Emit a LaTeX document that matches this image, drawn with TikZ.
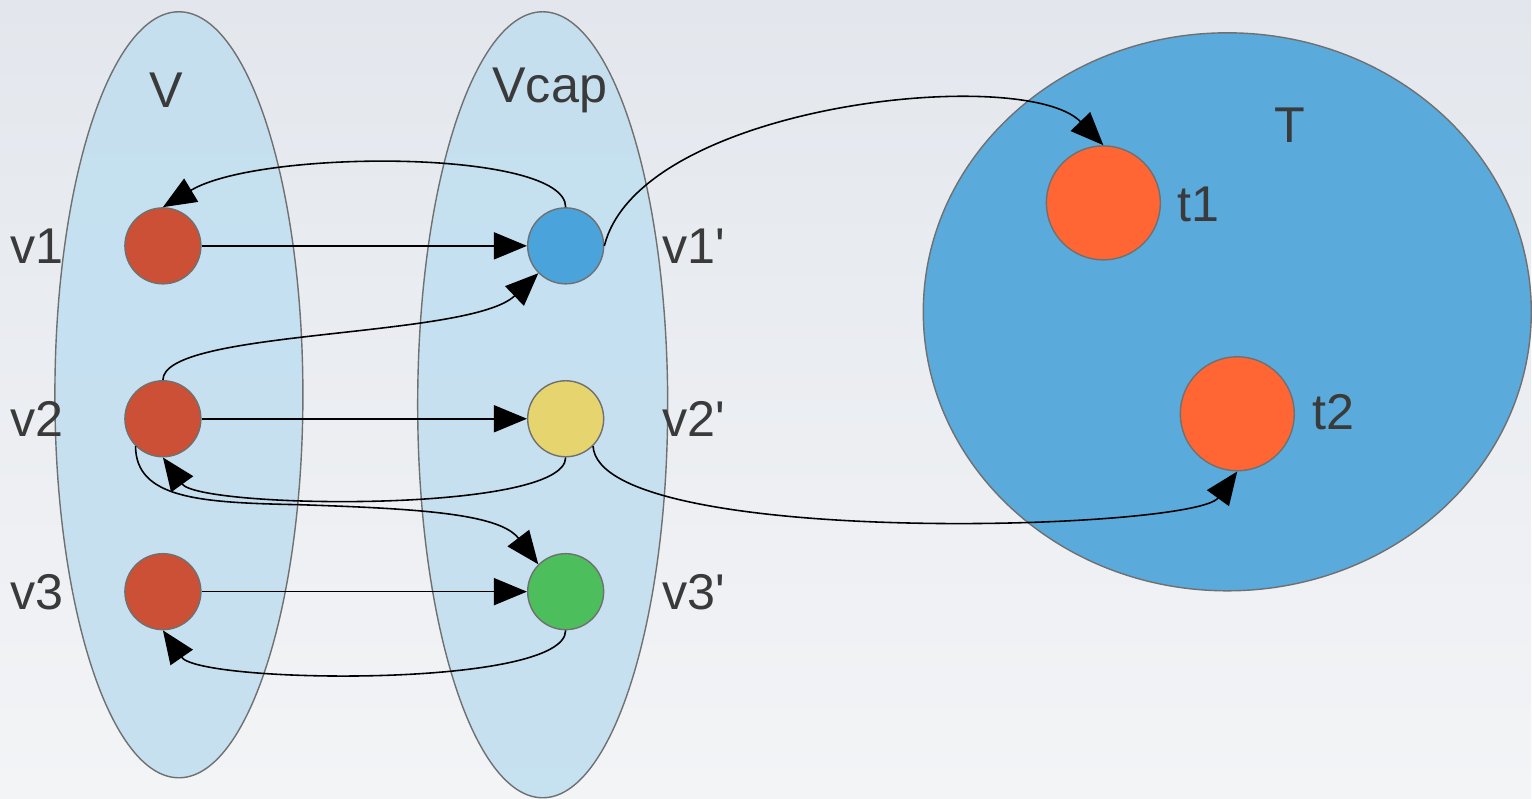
\documentclass[tikz,border=0pt]{standalone}
\usepackage{fontspec}
\setmainfont{Liberation Sans}
\usetikzlibrary{arrows.meta,shapes.geometric}

\definecolor{snowtop}{HTML}{E3E7ED}
\definecolor{snowbot}{HTML}{F3F4F6}
\definecolor{setblue}{HTML}{C2DFF0}
\definecolor{bigblue}{HTML}{5AAADC}
\definecolor{rimgrey}{HTML}{707070}
\definecolor{labgrey}{HTML}{3A3A3A}
\definecolor{vred}{HTML}{CC5035}
\definecolor{vblue}{HTML}{4AA3DB}
\definecolor{vyellow}{HTML}{E6D56E}
\definecolor{vgreen}{HTML}{4CBF5C}
\definecolor{torange}{HTML}{FF6633}

\begin{document}
\begin{tikzpicture}[x=0.01cm, y=0.01cm,
                setshape/.style={ellipse, draw=rimgrey, line width=0.4pt, inner sep=0pt},
                vtx/.style={circle, draw=rimgrey, line width=0.4pt, inner sep=0pt, minimum size=0.76cm},
                tvtx/.style={circle, draw=rimgrey, line width=0.4pt, inner sep=0pt, minimum size=1.14cm, fill=torange},
                lbl/.style={text=labgrey, inner sep=0pt, font=\fontsize{14.3}{17}\selectfont},
                arr/.style={-{Triangle[length=3.3mm, width=2.7mm]}, line width=0.45pt, black}]
                \shade[top color=snowtop, bottom color=snowbot] (0,0) rectangle (1532,799);

                \node[setshape, fill=setblue, fill opacity=0.9, minimum width=2.48cm, minimum height=7.66cm] (setV) at (179,404) {};
                \node[setshape, fill=setblue, fill opacity=0.9, minimum width=2.50cm, minimum height=7.86cm] (setVcap) at (543,394) {};
                \node[setshape, fill=bigblue, minimum width=6.08cm, minimum height=5.58cm] (setT) at (1228,487) {};

                \node[lbl] (labV) at (166,709) {V};
                \node[lbl] (labVcap) at (550,709) {Vcap};
                \node[lbl] (labT) at (1291,674) {T};

                \node[vtx, fill=vred] (v1) at (163,553) {};
                \node[vtx, fill=vred] (v2) at (163,380) {};
                \node[vtx, fill=vred] (v3) at (163,207) {};
                \node[vtx, fill=vblue] (v1p) at (566,553) {};
                \node[vtx, fill=vyellow] (v2p) at (566,380) {};
                \node[vtx, fill=vgreen] (v3p) at (566,207) {};
                \node[tvtx] (t1) at (1104,596) {};
                \node[tvtx] (t2) at (1238,385) {};

                \node[lbl] (lv1) at (37,553) {v1};
                \node[lbl] (lv2) at (37,380) {v2};
                \node[lbl] (lv3) at (37,206) {v3};
                \node[lbl] (lv1p) at (694,553) {v1\textquotesingle};
                \node[lbl] (lv2p) at (694,380) {v2\textquotesingle};
                \node[lbl] (lv3p) at (694,206) {v3\textquotesingle};
                \node[lbl] (lt1) at (1199,594) {t1};
                \node[lbl] (lt2) at (1334,387) {t2};

                \draw[arr] (v1) -- (v1p);
                \draw[arr] (v2) -- (v2p);
                \draw[arr] (v3) -- (v3p);
                \draw[arr] (v1p.north) .. controls (566,650) and (260,650) .. (v1.north);
                \draw[arr] (v2.north) .. controls (163,470) and (470,460) .. (v1p.225);
                \draw[arr] (v2p.south) .. controls (566,285) and (200,290) .. (v2.south);
                \draw[arr] (v2.225) .. controls (136,300) and (200,296) .. (300,294)
                                    .. controls (420,290) and (500,285) .. (v3p.135);
                \draw[arr] (v3p.south) .. controls (566,110) and (200,115) .. (v3.south);
                \draw[arr] (v1p.east) .. controls (640,695) and (1025,735) .. (t1.north);
                \draw[arr] (v2p.-45) .. controls (600,250) and (1195,268) .. (t2.south);
\end{tikzpicture}
\end{document}
